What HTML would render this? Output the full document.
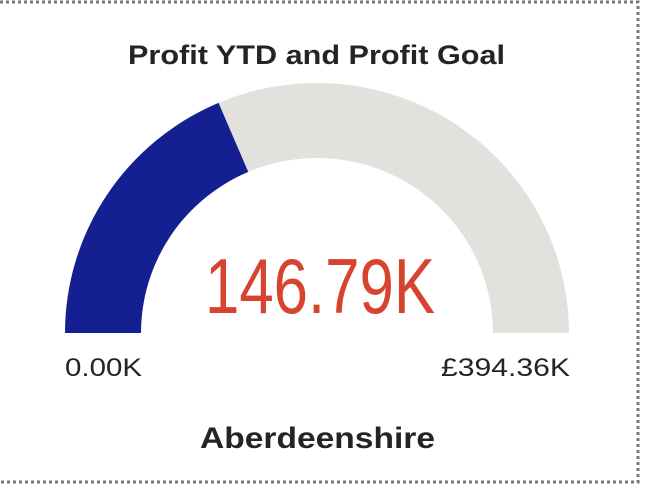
<!DOCTYPE html>
<html><head><meta charset="utf-8"><style>
body{margin:0;background:#fff;width:646px;height:490px;overflow:hidden;font-family:"Liberation Sans",sans-serif}
</style></head><body>
<svg width="646" height="490">
<path d="M0 2 H638 V482 H0" fill="none" stroke="#777" stroke-width="3" stroke-dasharray="3 3"/>
<text x="128" y="64" font-size="27" font-weight="bold" fill="#252423" textLength="377" lengthAdjust="spacingAndGlyphs">Profit YTD and Profit Goal</text>
<g id="g"></g>
<text x="205" y="313" font-size="78" fill="#D64430" textLength="230" lengthAdjust="spacingAndGlyphs">146.79K</text>
<text x="65" y="376" font-size="25" fill="#252423" textLength="77" lengthAdjust="spacingAndGlyphs">0.00K</text>
<text x="441" y="376" font-size="25" fill="#252423" textLength="129" lengthAdjust="spacingAndGlyphs">£394.36K</text>
<text x="200" y="448" font-size="30" font-weight="bold" fill="#252423" textLength="235" lengthAdjust="spacingAndGlyphs">Aberdeenshire</text>
</svg>
<script>
const minVal=0, maxVal=394.36, value=146.79;
const cx=317, cy=333, R=252, RY=250, r=176, ry=175;
function ang(v){return Math.PI*(1-(v-minVal)/(maxVal-minVal));}
function arc(v0,v1){
 const a0=ang(v0),a1=ang(v1);
 const p=(rx,ryy,a)=>[cx+rx*Math.cos(a),cy-ryy*Math.sin(a)];
 const [x0,y0]=p(R,RY,a0),[x1,y1]=p(R,RY,a1),[x2,y2]=p(r,ry,a1),[x3,y3]=p(r,ry,a0);
 return `M${x0} ${y0} A${R} ${RY} 0 0 1 ${x1} ${y1} L${x2} ${y2} A${r} ${ry} 0 0 0 ${x3} ${y3} Z`;
}
const g=document.getElementById('g');
const ns='http://www.w3.org/2000/svg';
const bg=document.createElementNS(ns,'path');
bg.setAttribute('d',arc(minVal,maxVal));bg.setAttribute('fill','#E3E1DD');


g.appendChild(bg);
const fg=document.createElementNS(ns,'path');
fg.setAttribute('d',arc(minVal,value));fg.setAttribute('fill','#141F92');


g.appendChild(fg);
</script>
</body></html>
